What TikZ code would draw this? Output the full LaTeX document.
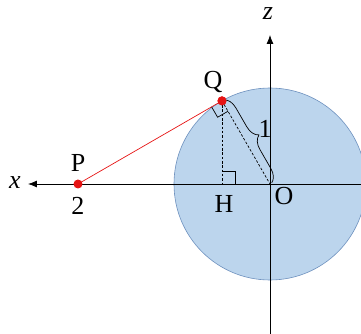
\documentclass[tikz,border=0pt]{standalone}
\usepackage{fontspec}
\setmainfont{Liberation Serif}
\usetikzlibrary{arrows.meta,calc,decorations.pathreplacing}
\definecolor{ballfill}{RGB}{188,213,237}
\definecolor{balledge}{RGB}{110,145,190}
\definecolor{ptred}{RGB}{230,20,20}
\newcommand{\lblsize}{\fontsize{26}{28}\selectfont}
\tikzset{
  axis/.style={line width=0.8pt,-{Latex[length=9pt,width=7pt]}},
  dot/.style={circle,fill=ptred,inner sep=0pt,minimum size=9pt},
  lbl/.style={inner sep=0pt},
  dashline/.style={line width=0.7pt,dash pattern=on 2.5pt off 1.8pt},
  thinline/.style={line width=0.7pt}
}
\begin{document}
\begin{tikzpicture}[x=1pt,y=1pt]
\useasboundingbox (-270,-150) rectangle (91,184);
\fill[ballfill] (0,0) circle (96);
\draw[balledge,line width=0.6pt] (0,0) circle (96);
\coordinate (O) at (0,0);
\coordinate (H) at (-48,0);
\coordinate (xe) at (91,0);
\coordinate (xt) at (-242,0);
\coordinate (zb) at (0,-150);
\coordinate (zt) at (0,149);
\draw[axis] (xe) -- (xt);
\draw[axis] (zb) -- (zt);
\node[lbl] (xl) at (-255,1) {\lblsize\itshape x};
\node[lbl] (zl) at (-2,170) {\lblsize\itshape z};
\node[dot] (P) at (-192,0) {};
\node[dot] (Q) at (-48,83.14) {};
\draw[ptred,thinline] (P.center) -- (Q.center);
\draw[dashline] (Q.center) -- (H);
\draw[dashline] (Q.center) -- (O);
% right angle at H
\draw[thinline] ($(H)+(13,0)$) -- ($(H)+(13,13)$) -- ($(H)+(0,13)$);
% right angle at Q
\draw[thinline] ($(Q.center)+(-0.866*12,-0.5*12)$) -- ($(Q.center)+(-0.866*12+0.5*12,-0.5*12-0.866*12)$) -- ($(Q.center)+(0.5*12,-0.866*12)$);
% brace
\draw[thinline,decorate,decoration={brace,amplitude=13pt,raise=2pt}] (Q.center) -- (O);
\node[dot] at (Q) {};
\node[lbl] (Pl) at (-192,21) {\lblsize P};
\node[lbl] (two) at (-192,-22) {\lblsize 2};
\node[lbl] (Ql) at (-57,102) {\lblsize Q};
\node[lbl] (Hl) at (-46,-20) {\lblsize H};
\node[lbl] (Ol) at (14,-12) {\lblsize O};
\node[lbl] (one) at (-5,55) {\lblsize 1};
\end{tikzpicture}
\end{document}
